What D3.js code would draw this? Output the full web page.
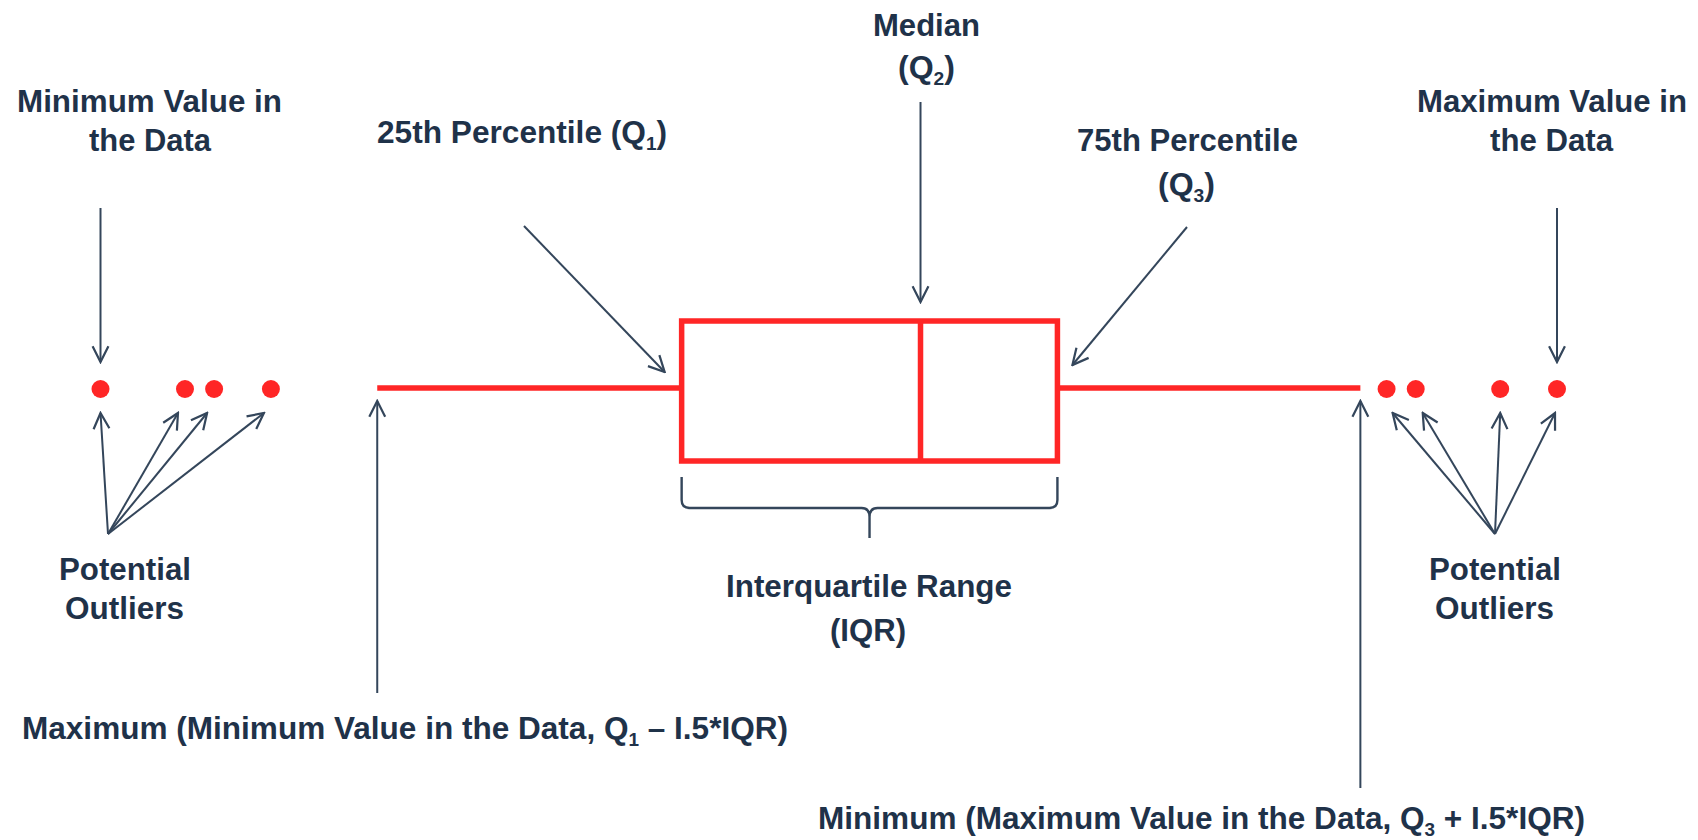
<!DOCTYPE html>
<html>
<head>
<meta charset="utf-8">
<script src="https://cdn.jsdelivr.net/npm/d3@7"></script>
<style>
  body { margin: 0; background: #fff; }
  text { font-family: "Liberation Sans", Arial, sans-serif; font-weight: bold; fill: #1f3249; }
</style>
</head>
<body>
<svg id="chart" width="1698" height="840"></svg>
<script>
// box plot values (arbitrary units)
var outliersLow = [0, 5.8, 7.8, 11.7];
var whiskerLow = 19.0;
var q1 = 39.9;
var median = 56.3;
var q3 = 65.7;
var whiskerHigh = 86.5;
var outliersHigh = [88.3, 90.3, 96.1, 100];

var svg = d3.select('#chart');
var red = '#ff2626';
var ink = '#34465b';

var x = d3.scaleLinear().domain([0, 100]).range([100.5, 1557]);
var yMid = 388, boxTop = 321, boxBot = 461;

svg.append('defs').append('marker')
    .attr('id', 'head')
    .attr('viewBox', '0 0 12 12')
    .attr('refX', 11).attr('refY', 6)
    .attr('markerWidth', 19).attr('markerHeight', 19)
    .attr('markerUnits', 'userSpaceOnUse')
    .attr('orient', 'auto')
    .append('path')
    .attr('d', 'M1,1 L11,6 L1,11')
    .attr('fill', 'none')
    .attr('stroke', ink)
    .attr('stroke-width', 1.4);

// whiskers
svg.append('line').attr('x1', x(whiskerLow)).attr('x2', x(q1))
    .attr('y1', yMid).attr('y2', yMid).attr('stroke', red).attr('stroke-width', 5.5);
svg.append('line').attr('x1', x(q3)).attr('x2', x(whiskerHigh))
    .attr('y1', yMid).attr('y2', yMid).attr('stroke', red).attr('stroke-width', 5.5);

// box + median
svg.append('rect').attr('x', x(q1)).attr('y', boxTop)
    .attr('width', x(q3) - x(q1)).attr('height', boxBot - boxTop)
    .attr('fill', 'none').attr('stroke', red).attr('stroke-width', 5.5);
svg.append('line').attr('x1', x(median)).attr('x2', x(median))
    .attr('y1', boxTop).attr('y2', boxBot).attr('stroke', red).attr('stroke-width', 5.5);

// outliers
svg.selectAll('circle.out')
    .data(outliersLow.concat(outliersHigh))
    .enter().append('circle')
    .attr('class', 'out')
    .attr('cx', function (d) { return x(d); })
    .attr('cy', yMid + 1)
    .attr('r', 9)
    .attr('fill', red);

function arrow(x1, y1, x2, y2) {
    svg.append('line')
        .attr('x1', x1).attr('y1', y1).attr('x2', x2).attr('y2', y2)
        .attr('stroke', ink).attr('stroke-width', 2)
        .attr('marker-end', 'url(#head)');
}

arrow(x(outliersLow[0]), 208, x(outliersLow[0]), 362);
arrow(x(outliersHigh[3]), 208, x(outliersHigh[3]), 362);
arrow(x(median), 102, x(median), 302);
arrow(524, 226, x(q1) - 17, 372);
arrow(1187, 227, x(q3) + 15, 365);
arrow(x(whiskerLow), 693, x(whiskerLow), 401);
arrow(x(whiskerHigh), 788, x(whiskerHigh), 401);

var tipLow = [0, -7, -7, -7];
outliersLow.forEach(function (d, i) {
    arrow(108, 534, x(d) + tipLow[i], 413);
});
var tipHigh = [6, 7, 0, -2];
outliersHigh.forEach(function (d, i) {
    arrow(1495, 534, x(d) + tipHigh[i], 413);
});

// IQR brace
var bl = x(q1), br = x(q3), bm = (bl + br) / 2;
svg.append('path')
    .attr('d', 'M' + bl + ',477 L' + bl + ',500 Q' + bl + ',508 ' + (bl + 8) + ',508 L' + (bm - 8) + ',508 Q' + bm + ',508 ' + bm + ',517 L' + bm + ',538' +
        ' M' + bm + ',517 Q' + bm + ',508 ' + (bm + 8) + ',508 L' + (br - 8) + ',508 Q' + br + ',508 ' + br + ',500 L' + br + ',477')
    .attr('fill', 'none').attr('stroke', ink).attr('stroke-width', 2.4);

// text with optional subscripts, fitted to the width seen in the picture
function label(parts, tx, ty, w, size) {
    var t = svg.append('text')
        .attr('x', tx).attr('y', ty)
        .attr('font-size', size)
        .attr('textLength', w)
        .attr('lengthAdjust', 'spacingAndGlyphs');
    var shifted = false;
    parts.forEach(function (p) {
        if (typeof p === 'string') {
            var s = t.append('tspan').text(p);
            if (shifted) { s.attr('dy', -7); shifted = false; }
        } else {
            t.append('tspan').text(p.sub).attr('font-size', size * 0.6).attr('dy', 7);
            shifted = true;
        }
    });
}

label(['Minimum Value in'], 17, 112, 265, 31);
label(['the Data'], 89, 151, 122, 31);
label(['25th Percentile (Q', {sub: '1'}, ')'], 377, 143, 290, 31);
label(['Median'], 873, 36, 107, 31);
label(['(Q', {sub: '2'}, ')'], 898, 78, 57, 31);
label(['75th Percentile'], 1077, 151, 221, 31);
label(['(Q', {sub: '3'}, ')'], 1158, 195, 57, 31);
label(['Maximum Value in'], 1417, 112, 270, 31);
label(['the Data'], 1490, 151, 123, 31);
label(['Potential'], 59, 580, 132, 31);
label(['Outliers'], 65, 619, 119, 31);
label(['Potential'], 1429, 580, 132, 31);
label(['Outliers'], 1435, 619, 119, 31);
label(['Interquartile Range'], 726, 597, 286, 31);
label(['(IQR)'], 830, 641, 76, 31);
label(['Maximum (Minimum Value in the Data, Q', {sub: '1'}, ' – I.5*IQR)'], 22, 739, 766, 31);
label(['Minimum (Maximum Value in the Data, Q', {sub: '3'}, ' + I.5*IQR)'], 818, 829, 767, 31);
</script>
</body>
</html>
